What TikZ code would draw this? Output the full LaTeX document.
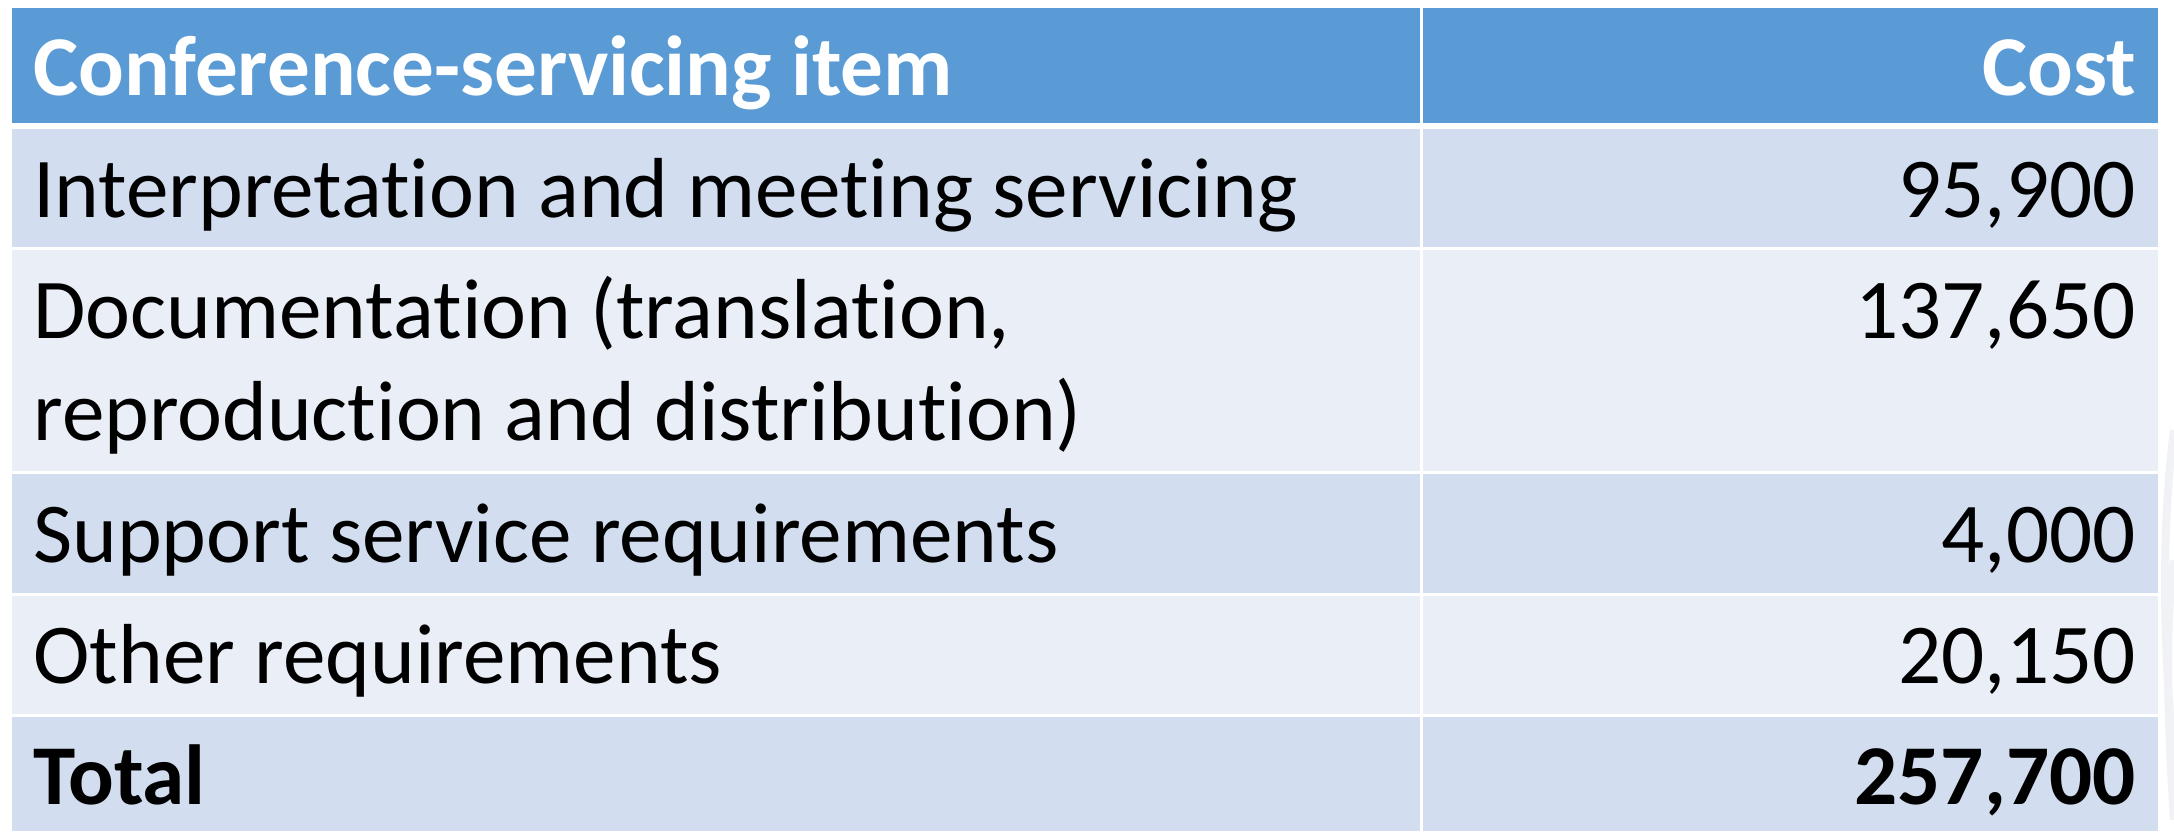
\documentclass[tikz,border=0pt]{standalone}
\usepackage{fontspec}
\setmainfont{Carlito}[Ligatures=NoCommon]
\usepackage{xcolor}
\usetikzlibrary{positioning}
\definecolor{headblue}{HTML}{5B9BD5}
\definecolor{rowdark}{HTML}{D2DEEF}
\definecolor{rowlight}{HTML}{EAEFF7}
\definecolor{markgray}{HTML}{F1F2F5}

\begin{document}
\begin{tikzpicture}[x=0.5pt,y=-0.5pt,
	cell/.style={inner sep=0pt,font=\fontsize{42.6}{51}\selectfont},
	item/.style={cell,anchor=base west},
	cost/.style={cell,anchor=base east},
	head/.style={text=white,font=\fontsize{42.6}{51}\selectfont\bfseries},
	total/.style={font=\fontsize{42.6}{51}\selectfont\bfseries}]
		\useasboundingbox (0,0) rectangle (2174,831);
		% faint watermark at the right edge
		\draw[markgray,line width=4pt] (2174,430) .. controls (2162,520) and (2162,640) .. (2174,760);
		\draw[markgray,line width=4pt] (2174,560) .. controls (2166,620) and (2166,700) .. (2174,820);
		% row bands
		\fill[headblue] (12,8) rectangle (2158,123);
		\fill[rowdark] (12,129) rectangle (2158,247);
		\fill[rowlight] (12,250) rectangle (2158,471);
		\fill[rowdark] (12,474) rectangle (2158,593);
		\fill[rowlight] (12,596) rectangle (2158,714);
		\fill[rowdark] (12,717) rectangle (2158,831);
		\draw[white,line width=1.5pt] (1421,8) -- (1421,831);
		% texts
		\node[item,head] (hitem) at (33,95) {Conference-servicing item};
		\node[cost,head] (hcost) at (2136,95) {Cost};
		\node[item] (interp) at (33,217) {Interpretation and meeting servicing};
		\node[cost] (cinterp) at (2136,217) {95,900};
		\node[item] (docA) at (33,338) {Documentation (translation,};
		\node[item] (docB) at (33,440) {reproduction and distribution)};
		\node[cost] (cdoc) at (2136,338) {137,650};
		\node[item] (support) at (33,562) {Support service requirements};
		\node[cost] (csupport) at (2136,562) {4,000};
		\node[item] (other) at (33,683) {Other requirements};
		\node[cost] (cother) at (2136,683) {20,150};
		\node[item,total] (total) at (33,804) {Total};
		\node[cost,total] (ctotal) at (2136,804) {257,700};
\end{tikzpicture}
\end{document}
